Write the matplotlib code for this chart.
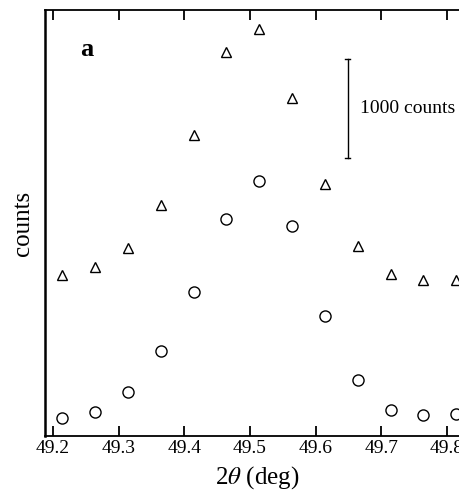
import numpy as np
import matplotlib
matplotlib.use("Agg")
import matplotlib.pyplot as plt

plt.rcParams["font.family"] = ["Liberation Serif", "DejaVu Serif"]
plt.rcParams["mathtext.fontset"] = "stix"

# scan positions, 2theta in degrees
two_theta = [49.214, 49.264, 49.314, 49.364, 49.414, 49.464, 49.514,
             49.564, 49.614, 49.664, 49.714, 49.764, 49.814]

# upper scan (triangles) and lower scan (circles), counts
counts_tri = [1630, 1710, 1900, 2330, 3040, 3880, 4110,
              3410, 2545, 1920, 1635, 1575, 1575]
counts_circ = [180, 240, 445, 860, 1455, 2190, 2575,
               2120, 1210, 565, 265, 210, 220]

xticks = [49.2, 49.3, 49.4, 49.5, 49.6, 49.7, 49.8]

fig = plt.figure(figsize=(4.59, 4.92), dpi=100)
ax = fig.add_axes([0.098, 0.1138, 0.926, 0.8659])

ax.plot(two_theta, counts_tri, linestyle="none", marker="^", ms=7.5,
        mfc="none", mec="black", mew=1.0)
ax.plot(two_theta, counts_circ, linestyle="none", marker="o", ms=8,
        mfc="none", mec="black", mew=1.0)

# 1000 counts scale bar
bar_x = 49.649
bar_lo, bar_hi = 2808, 3808
ax.plot([bar_x, bar_x], [bar_lo, bar_hi], color="black", lw=1.0)
ax.plot([bar_x - 0.004, bar_x + 0.004], [bar_lo, bar_lo], color="black", lw=1.0)
ax.plot([bar_x - 0.004, bar_x + 0.004], [bar_hi, bar_hi], color="black", lw=1.0)
ax.text(bar_x + 0.018, (bar_lo + bar_hi) / 2, "1000 counts", fontsize=14,
        va="center", ha="left")

ax.text(49.2515, 3905, "a", fontsize=19, fontweight="semibold",
        va="center", ha="center")

ax.set_xlim(49.1878, 49.835)
ax.set_ylim(0, 4300)
ax.set_xticks(xticks)
ax.set_xticklabels([f"{t:.1f}" for t in xticks])
ax.set_yticks([])
ax.tick_params(axis="x", direction="in", top=True, length=7, width=1.3,
               labelsize=14, pad=3)

ax.spines["right"].set_visible(False)
ax.spines["left"].set_linewidth(1.8)
ax.spines["bottom"].set_linewidth(1.3)
ax.spines["top"].set_linewidth(1.3)

ax.set_xlabel(r"2$\theta$ (deg)", fontsize=18, labelpad=5)
ax.set_ylabel("counts", fontsize=18, labelpad=8)

fig.savefig("out.png", dpi=100)
